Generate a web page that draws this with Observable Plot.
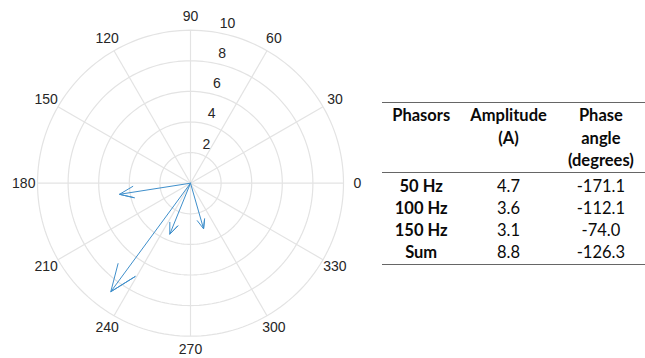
<!DOCTYPE html>
<html>
<head>
<meta charset="utf-8">
<script src="https://cdn.jsdelivr.net/npm/d3@7"></script>
<script src="https://cdn.jsdelivr.net/npm/@observablehq/plot@0.6"></script>
<style>
  body { margin: 0; width: 645px; height: 358px; overflow: hidden; background: #fff; position: relative; }
  #compass { position: absolute; left: 0; top: 0; }
  #phasor-table {
    position: absolute; left: 382px; top: 102px;
    border-collapse: collapse; table-layout: fixed;
    font-family: Lato, "Open Sans", sans-serif; font-size: 16.5px; color: #0a0a0a;
    border-top: 1px solid #666; border-bottom: 1px solid #666;
  }
  #phasor-table th { font-weight: bold; vertical-align: top; line-height: 22.5px; padding: 1px 0 0 0; text-align: center; }
  #phasor-table thead tr { border-bottom: 1px solid #666; }
  #phasor-table td { line-height: 22px; padding: 0; text-align: center; }
  #phasor-table tbody tr:first-child td { padding-top: 2px; }
  #phasor-table tbody tr:last-child td { padding-bottom: 1px; }
  #phasor-table td.name { font-weight: bold; }
</style>
</head>
<body>
<div id="compass"></div>
<table id="phasor-table"></table>
<script>
// Harmonic phasors: amplitude in A, phase angle in degrees
const phasors = ["50 Hz", "100 Hz", "150 Hz", "Sum"];
const amplitudes = [4.7, 3.6, 3.1, 8.8];
const phaseAngles = [-171.1, -112.1, -74.0, -126.3];

// Polar grid ticks
const radialTicks = [2, 4, 6, 8, 10];
const angleTicks = [0, 30, 60, 90, 120, 150, 180, 210, 240, 270, 300, 330];

// Table header lines
const headerLines = [["Phasors"], ["Amplitude", "(A)"], ["Phase", "angle", "(degrees)"]];
const columnWidths = [80, 98, 90];

const rMax = 10;
const pxPerUnit = 15.3;
const W = 380, H = 358, cx = 190, cy = 182.7;
const rad = (deg) => deg * Math.PI / 180;

// Grid rings sampled around the full circle
const ringPoints = radialTicks.flatMap((r) =>
  d3.range(0, 361, 2).map((t) => ({r, x: r * Math.cos(rad(t)), y: r * Math.sin(rad(t))}))
);

// Compass-style arrows: shaft to the tip, then two head strokes back to 80% length
const headShape = [[0, 0], [1, 0], [0.8, 0.08], [1, 0], [0.8, -0.08]];
const arrowPoints = phasors.flatMap((name, i) => {
  const a = amplitudes[i], p = rad(phaseAngles[i]);
  const c = Math.cos(p), s = Math.sin(p);
  return headShape.map(([u, v]) => ({
    name,
    x: a * (u * c - v * s),
    y: a * (u * s + v * c)
  }));
});

const chart = Plot.plot({
  width: W,
  height: H,
  margin: 0,
  x: {domain: [-cx / pxPerUnit, (W - cx) / pxPerUnit], axis: null},
  y: {domain: [-(H - cy) / pxPerUnit, cy / pxPerUnit], axis: null},
  style: {fontFamily: "'Liberation Sans', Arial, sans-serif", fontSize: "14px", color: "#262626", background: "#fff"},
  marks: [
    Plot.line(ringPoints, {x: "x", y: "y", z: "r", stroke: "#e3e3e3", strokeWidth: 1.2}),
    Plot.link(angleTicks, {
      x1: 0, y1: 0,
      x2: (t) => rMax * Math.cos(rad(t)),
      y2: (t) => rMax * Math.sin(rad(t)),
      stroke: "#e3e3e3", strokeWidth: 1.2
    }),
    Plot.text(angleTicks, {
      x: (t) => 10.9 * Math.cos(rad(t)),
      y: (t) => 10.9 * Math.sin(rad(t)),
      text: (t) => String(t),
      fontSize: 14,
      fill: "#262626"
    }),
    Plot.text(radialTicks, {
      x: (r) => r * Math.cos(rad(80)),
      y: (r) => r * Math.sin(rad(80)),
      text: (r) => String(r),
      dx: 10.5, dy: -9,
      fontSize: 14,
      fill: "#262626"
    }),
    Plot.line(arrowPoints, {x: "x", y: "y", z: "name", stroke: "#3f8fcb", strokeWidth: 1, curve: "linear"})
  ]
});
document.getElementById("compass").append(chart);

// Summary table
const table = d3.select("#phasor-table");
table.append("colgroup").selectAll("col").data(columnWidths).join("col").style("width", (w) => w + "px");
table.append("thead").append("tr").selectAll("th").data(headerLines).join("th")
  .html((lines) => lines.join("<br>"));
const rows = table.append("tbody").selectAll("tr").data(phasors).join("tr");
rows.append("td").attr("class", "name").text((d) => d);
rows.append("td").text((d, i) => amplitudes[i].toFixed(1));
rows.append("td").text((d, i) => phaseAngles[i].toFixed(1));
</script>
</body>
</html>
